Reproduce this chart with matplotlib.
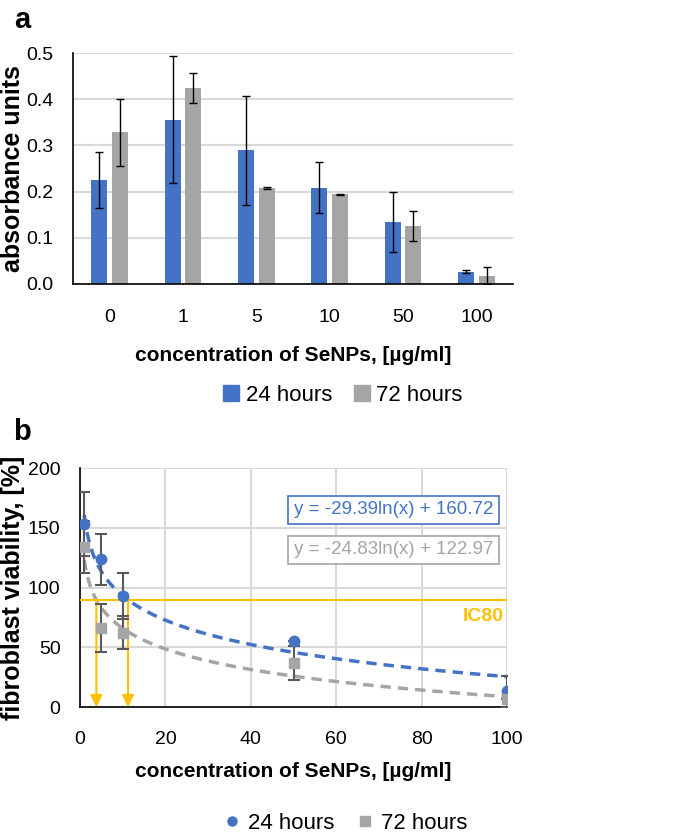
import numpy as np
import matplotlib
matplotlib.use("Agg")
import matplotlib.pyplot as plt
from matplotlib.lines import Line2D
from matplotlib.patches import Patch

plt.rcParams['font.family'] = ['Liberation Sans', 'DejaVu Sans']

# ---- panel a: absorbance bars ----
categories = ["0", "1", "5", "10", "50", "100"]
abs_24h = [0.225, 0.356, 0.290, 0.208, 0.134, 0.027]
abs_24h_err = [0.060, 0.138, 0.118, 0.055, 0.065, 0.003]
abs_72h = [0.328, 0.424, 0.208, 0.194, 0.125, 0.018]
abs_72h_err = [0.072, 0.032, 0.003, 0.001, 0.032, 0.018]

# ---- panel b: viability points + log fits ----
conc = [1, 5, 10, 50, 100]
via_24h = [153, 123.5, 93, 55.6, 13]
via_24h_err = [27, 21, 19.5, 0, 13]
via_72h = [134, 66, 62.3, 36.7, 6.7]
via_72h_err = [22, 20, 14, 14, 0]
fit_24h = (-29.39, 160.72)
fit_72h = (-24.83, 122.97)
fit_labels = ["y = -29.39ln(x) + 160.72", "y = -24.83ln(x) + 122.97"]
ic80_level = 89.6

BLUE = "#4472C4"
GRAY = "#A5A5A5"
GOLD = "#FFC000"
GRID = "#D9D9D9"

fig = plt.figure(figsize=(6.85, 8.38), dpi=100)

# ---------------- panel a ----------------
ax1 = fig.add_axes([73 / 685, 1 - 284 / 838, 440 / 685, 231 / 838])
x = np.arange(len(categories))
w = 0.22
ax1.bar(x - 0.14, abs_24h, w, color=BLUE, zorder=2)
ax1.bar(x + 0.14, abs_72h, w, color=GRAY, zorder=2)
ax1.errorbar(x - 0.14, abs_24h, yerr=abs_24h_err, fmt="none", ecolor="black",
             elinewidth=1, capsize=3, capthick=1, zorder=3)
ax1.errorbar(x + 0.14, abs_72h, yerr=abs_72h_err, fmt="none", ecolor="black",
             elinewidth=1, capsize=3, capthick=1, zorder=3)
ax1.set_xlim(-0.5, len(categories) - 0.5)
ax1.set_ylim(0, 0.5)
ax1.set_yticks(np.arange(0, 0.51, 0.1))
ax1.set_yticklabels([f"{v:.1f}" for v in np.arange(0, 0.51, 0.1)])
ax1.set_xticks(x)
ax1.set_xticklabels(categories)
ax1.tick_params(length=0, labelsize=14)
ax1.tick_params(axis="x", pad=18)
ax1.tick_params(axis="y", pad=14)
ax1.grid(axis="y", color=GRID, lw=1.5, zorder=0)
ax1.set_axisbelow(True)
for s in ["top", "right"]:
    ax1.spines[s].set_visible(False)
for s in ["left", "bottom"]:
    ax1.spines[s].set_color("black")
    ax1.spines[s].set_linewidth(1.2)
ax1.set_ylabel("absorbance units", fontsize=18, fontweight="bold")
ax1.yaxis.set_label_coords(-(73 - 25) / 440, 0.5)
ax1.set_xlabel("concentration of SeNPs, [µg/ml]", fontsize=15, fontweight="bold")
ax1.xaxis.set_label_coords(0.5, -(346 - 284) / 231)
ax1.legend(handles=[Patch(color=BLUE, label="24 hours"), Patch(color=GRAY, label="72 hours")],
           loc="center", bbox_to_anchor=(343 / 685, 1 - 395 / 838), bbox_transform=fig.transFigure,
           ncol=2, frameon=False, fontsize=16, handlelength=0.7,
           handleheight=0.7, handletextpad=0.3, columnspacing=1.0)
fig.text(22 / 685, 1 - 20 / 838, "a", fontsize=21, fontweight="bold", ha="center", va="center")

# ---------------- panel b ----------------
ax2 = fig.add_axes([80 / 685, 1 - 707 / 838, 427 / 685, 239 / 838])
ax2.set_xlim(0, 100)
ax2.set_ylim(0, 200)
ax2.set_xticks(np.arange(0, 101, 20))
ax2.set_yticks(np.arange(0, 201, 50))
ax2.grid(color=GRID, lw=1.5, zorder=0)
ax2.set_axisbelow(True)
for s in ["top", "right"]:
    ax2.spines[s].set_visible(False)
for s in ["left", "bottom"]:
    ax2.spines[s].set_color("black")
    ax2.spines[s].set_linewidth(1.2)
ax2.tick_params(length=0, labelsize=14)
ax2.tick_params(axis="x", pad=17)
ax2.tick_params(axis="y", pad=14)

xs = np.linspace(1, 100, 400)
ax2.plot(xs, fit_24h[0] * np.log(xs) + fit_24h[1], color=BLUE, lw=2.5,
         dashes=(3, 2), zorder=3)
ax2.plot(xs, fit_72h[0] * np.log(xs) + fit_72h[1], color=GRAY, lw=2.5,
         dashes=(3, 2), zorder=3)

ax2.errorbar(conc, via_24h, yerr=via_24h_err, fmt="none", ecolor="#595959",
             elinewidth=1.5, capsize=4, capthick=1.5, zorder=4)
ax2.errorbar(conc, via_72h, yerr=via_72h_err, fmt="none", ecolor="#595959",
             elinewidth=1.5, capsize=4, capthick=1.5, zorder=4)
ax2.plot(conc, via_24h, "o", color=BLUE, ms=7.5, zorder=5)
ax2.plot(conc, via_72h, "s", color=GRAY, ms=7, zorder=5)

# IC80 line and arrows at the fit intersections
ax2.axhline(ic80_level, color=GOLD, lw=1.5, zorder=3)
for a, b in (fit_72h, fit_24h):
    xi = np.exp((ic80_level - b) / a)
    ax2.annotate("", xy=(xi, 0), xytext=(xi, ic80_level),
                 arrowprops=dict(arrowstyle="-|>,head_length=0.7,head_width=0.35",
                                 color=GOLD, lw=1.5, shrinkA=0, shrinkB=0), zorder=3)
ax2.text(94.4, 76, "IC80", color=GOLD, fontsize=14, fontweight="bold", ha="center", va="center")

ax2.text(50.0, 165, fit_labels[0], color=BLUE, fontsize=13.5, ha="left", va="center",
         bbox=dict(boxstyle="square,pad=0.3", fc="white", ec=BLUE, lw=1.2), zorder=6)
ax2.text(50.0, 131.5, fit_labels[1], color=GRAY, fontsize=13.5, ha="left", va="center",
         bbox=dict(boxstyle="square,pad=0.3", fc="white", ec=GRAY, lw=1.2), zorder=6)

ax2.set_ylabel("fibroblast viability, [%]", fontsize=18, fontweight="bold")
ax2.yaxis.set_label_coords(-(80 - 25) / 427, 0.5)
ax2.set_xlabel("concentration of SeNPs, [µg/ml]", fontsize=15, fontweight="bold")
ax2.xaxis.set_label_coords(0.5, -(762 - 707) / 239)
ax2.legend(handles=[Line2D([], [], marker="o", color=BLUE, ls="none", ms=6.5, label="24 hours"),
                    Line2D([], [], marker="s", color=GRAY, ls="none", ms=6.5, label="72 hours")],
           loc="center", bbox_to_anchor=(345 / 685, 1 - 823 / 838), bbox_transform=fig.transFigure,
           ncol=2, frameon=False, fontsize=16, handlelength=0.8,
           handletextpad=0.3, columnspacing=1.0)
fig.text(22 / 685, 1 - 432 / 838, "b", fontsize=21, fontweight="bold", ha="center", va="center")

fig.savefig("out.png", dpi=100)
